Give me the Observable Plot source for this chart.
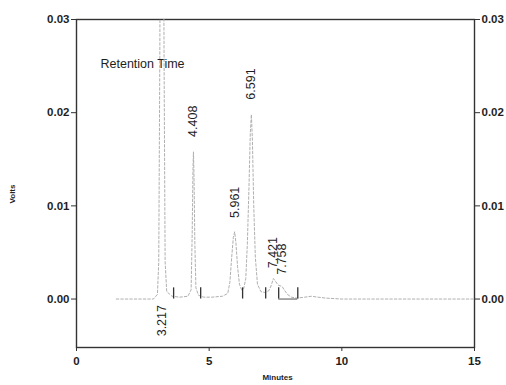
<!DOCTYPE html>
<html>
<head>
<meta charset="utf-8">
<script src="https://cdn.jsdelivr.net/npm/d3@7"></script>
<script src="https://cdn.jsdelivr.net/npm/@observablehq/plot@0.6"></script>
<style>
  html, body { margin: 0; padding: 0; background: #fff; }
  #chart svg { display: block; }
</style>
</head>
<body>
<div id="chart"></div>
<script>
// Chromatogram trace (minutes, volts)
const traceTime  = [1.5, 2.0, 2.5, 2.9, 3.05, 3.1, 3.14, 3.217, 3.3, 3.34, 3.4, 3.6, 3.9, 4.2, 4.32, 4.36, 4.39, 4.408, 4.43, 4.46, 4.5, 4.6, 4.8, 5.1, 5.5, 5.7, 5.78, 5.85, 5.91, 5.961, 6.01, 6.07, 6.14, 6.22, 6.3, 6.38, 6.44, 6.5, 6.55, 6.591, 6.63, 6.68, 6.74, 6.82, 6.95, 7.1, 7.25, 7.33, 7.421, 7.5, 7.6, 7.7, 7.758, 7.85, 7.95, 8.1, 8.3, 8.6, 8.85, 9.1, 9.4, 10, 11, 12, 13, 14, 15];
const traceVolts = [0, 0, 0, 0, 0.0005, 0.004, 0.026, 0.09, 0.026, 0.004, 0.0008, 0.0003, 0.0002, 0.0003, 0.001, 0.007, 0.014, 0.0158, 0.013, 0.006, 0.0012, 0.0004, 0.0002, 0.0002, 0.0003, 0.0006, 0.0018, 0.0045, 0.0066, 0.0072, 0.006, 0.0035, 0.0016, 0.001, 0.0011, 0.0022, 0.006, 0.012, 0.0178, 0.0198, 0.017, 0.01, 0.0045, 0.0016, 0.0008, 0.0007, 0.0009, 0.0014, 0.0022, 0.0019, 0.0015, 0.0014, 0.0013, 0.0009, 0.0005, 0.0002, 0.0001, 0.0002, 0.0003, 0.0002, 0.0001, 0, 0, 0, 0, 0, 0];

// Peak labels (retention times) and where their text starts
const peakTimes  = [3.217, 4.408, 5.961, 6.591, 7.421, 7.758];
const peakLabels = ["3.217", "4.408", "5.961", "6.591", "7.421", "7.758"];
const labelStart = [-0.0040, 0.0174, 0.0087, 0.0214, 0.0033, 0.0026];

// Integration markers on the baseline
const markerTimes = [3.66, 4.68, 6.26, 7.13, 7.62, 8.34];
const markerHeight = 0.0012;

// Axis ticks
const yTicks = [0, 0.01, 0.02, 0.03];
const xTicks = [0, 5, 10, 15];

const trace = traceTime.map((t, i) => ({t, v: traceVolts[i]}));
const peaks = peakTimes.map((t, i) => ({t, label: peakLabels[i], y: labelStart[i]}));

const font = "Liberation Sans, Arial, Helvetica, sans-serif";
const ink = "#1e1e1e";

const plot = Plot.plot({
  width: 506,
  height: 385,
  marginLeft: 76,
  marginRight: 32,
  marginTop: 19,
  marginBottom: 38,
  style: {fontFamily: font, background: "#fff", color: ink},
  x: {domain: [0, 15]},
  y: {domain: [-0.0052, 0.03]},
  marks: [
    Plot.frame({stroke: "#333", strokeWidth: 1.4}),
    Plot.axisY(yTicks, {anchor: "left", tickFormat: ".2f", tickSize: 5, tickPadding: 2, fontSize: 11.5, fontWeight: "bold", label: null, stroke: "#333"}),
    Plot.axisY(yTicks, {anchor: "right", tickFormat: ".2f", tickSize: 5, tickPadding: 2, fontSize: 11.5, fontWeight: "bold", label: null, stroke: "#333"}),
    Plot.axisX(xTicks, {anchor: "bottom", tickSize: 4, tickPadding: 5, fontSize: 11.5, fontWeight: "bold", label: null, stroke: "#333"}),
    Plot.text(["Minutes"], {frameAnchor: "bottom", dx: 2, dy: 32, fontSize: 8, fontWeight: "bold", fill: ink}),
    Plot.text(["Volts"], {frameAnchor: "left", dx: -64, dy: 20, rotate: -90, fontSize: 8, fontWeight: "bold", fill: ink}),
    Plot.text(["Retention Time"], {frameAnchor: "top-left", dx: 24, dy: 40, fontSize: 12.5, fill: ink}),
    Plot.line(trace, {x: "t", y: "v", stroke: "#b0b0b0", strokeWidth: 1, strokeDasharray: "2.5,2", clip: true}),
    Plot.ruleX(markerTimes, {y1: 0, y2: markerHeight, stroke: "#333", strokeWidth: 1.3}),
    Plot.ruleY([0], {x1: 7.62, x2: 8.34, stroke: "#555", strokeWidth: 1}),
    Plot.text(peaks, {x: "t", y: "y", text: "label", rotate: -90, textAnchor: "start", fontSize: 12.5, fill: ink})
  ]
});
document.getElementById("chart").appendChild(plot);
</script>
</body>
</html>
